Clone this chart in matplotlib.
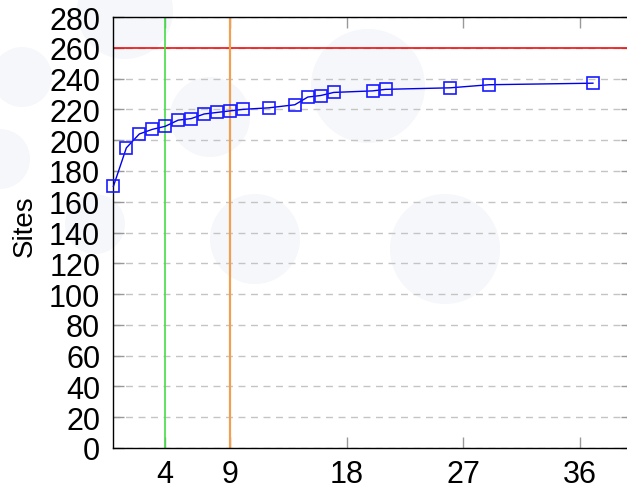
import matplotlib
matplotlib.use("Agg")
import matplotlib.pyplot as plt
from matplotlib.patches import Circle

plt.rcParams['font.family'] = ['Liberation Sans', 'DejaVu Sans']

# Data
x_vals = [0, 1, 2, 3, 4, 5, 6, 7, 8, 9, 10, 12, 14, 15, 16, 17, 20, 21, 26, 29, 37]
sites = [170, 195, 204, 207, 209, 213, 214, 217, 218, 219, 220, 221, 223, 228, 229, 231, 232, 233, 234, 236, 237]
x_ticks = [4, 9, 18, 27, 36]
y_ticks = list(range(0, 281, 20))
limit_line = 260
green_x = 4
orange_x = 9

W, H = 627, 485
fig = plt.figure(figsize=(W / 100, H / 100), dpi=100)

# decorative background circles (pixel coords from top-left)
circles = [(22, 78, 30), (0, 160, 30), (125, 12, 48), (210, 118, 40),
           (368, 87, 57), (255, 240, 45), (445, 250, 55), (95, 225, 30)]
for cx, cy, r in circles:
    fig.patches.append(Circle((cx / 100, (H - cy) / 100), r / 100,
                              transform=fig.dpi_scale_trans,
                              facecolor='#f5f7fa', edgecolor='none', zorder=-5))

left, right, top, bottom = 113.4, 631.8, 18, 449
ax = fig.add_axes([left / W, (H - bottom) / H, (right - left) / W, (bottom - top) / H])
ax.set_zorder(1)
ax.patch.set_alpha(0)

ax.set_xlim(0, 40)
ax.set_ylim(0, 280)
ax.set_xticks(x_ticks)
ax.set_yticks(y_ticks)

ax.yaxis.grid(True, linestyle=(0, (5, 4)), color='#c4c4c4', linewidth=1)
ax.set_axisbelow(True)

ax.axhline(limit_line, color='#ee1111', linewidth=1.2, zorder=2)
ax.axvline(green_x, color='#44dd44', linewidth=1.2, zorder=2)
ax.axvline(orange_x, color='#f0a050', linewidth=1.6, zorder=2)

ax.plot(x_vals, sites, color='#0000ee', linewidth=1, marker='s', markersize=8,
        markerfacecolor='none', markeredgecolor='#1a1aff', markeredgewidth=1.2, zorder=3,
        clip_on=False)

ax.tick_params(direction='in', length=8, width=1, color='#999999',
               top=True, right=True, labelsize=22, pad=9.5)
ax.tick_params(axis='x', pad=8)
for s in ax.spines.values():
    s.set_color('black')
    s.set_linewidth(1)

ax.set_ylabel('Sites', fontsize=20)
ax.yaxis.set_label_coords(-0.145, 0.517)

fig.savefig('out.png', dpi=100)
